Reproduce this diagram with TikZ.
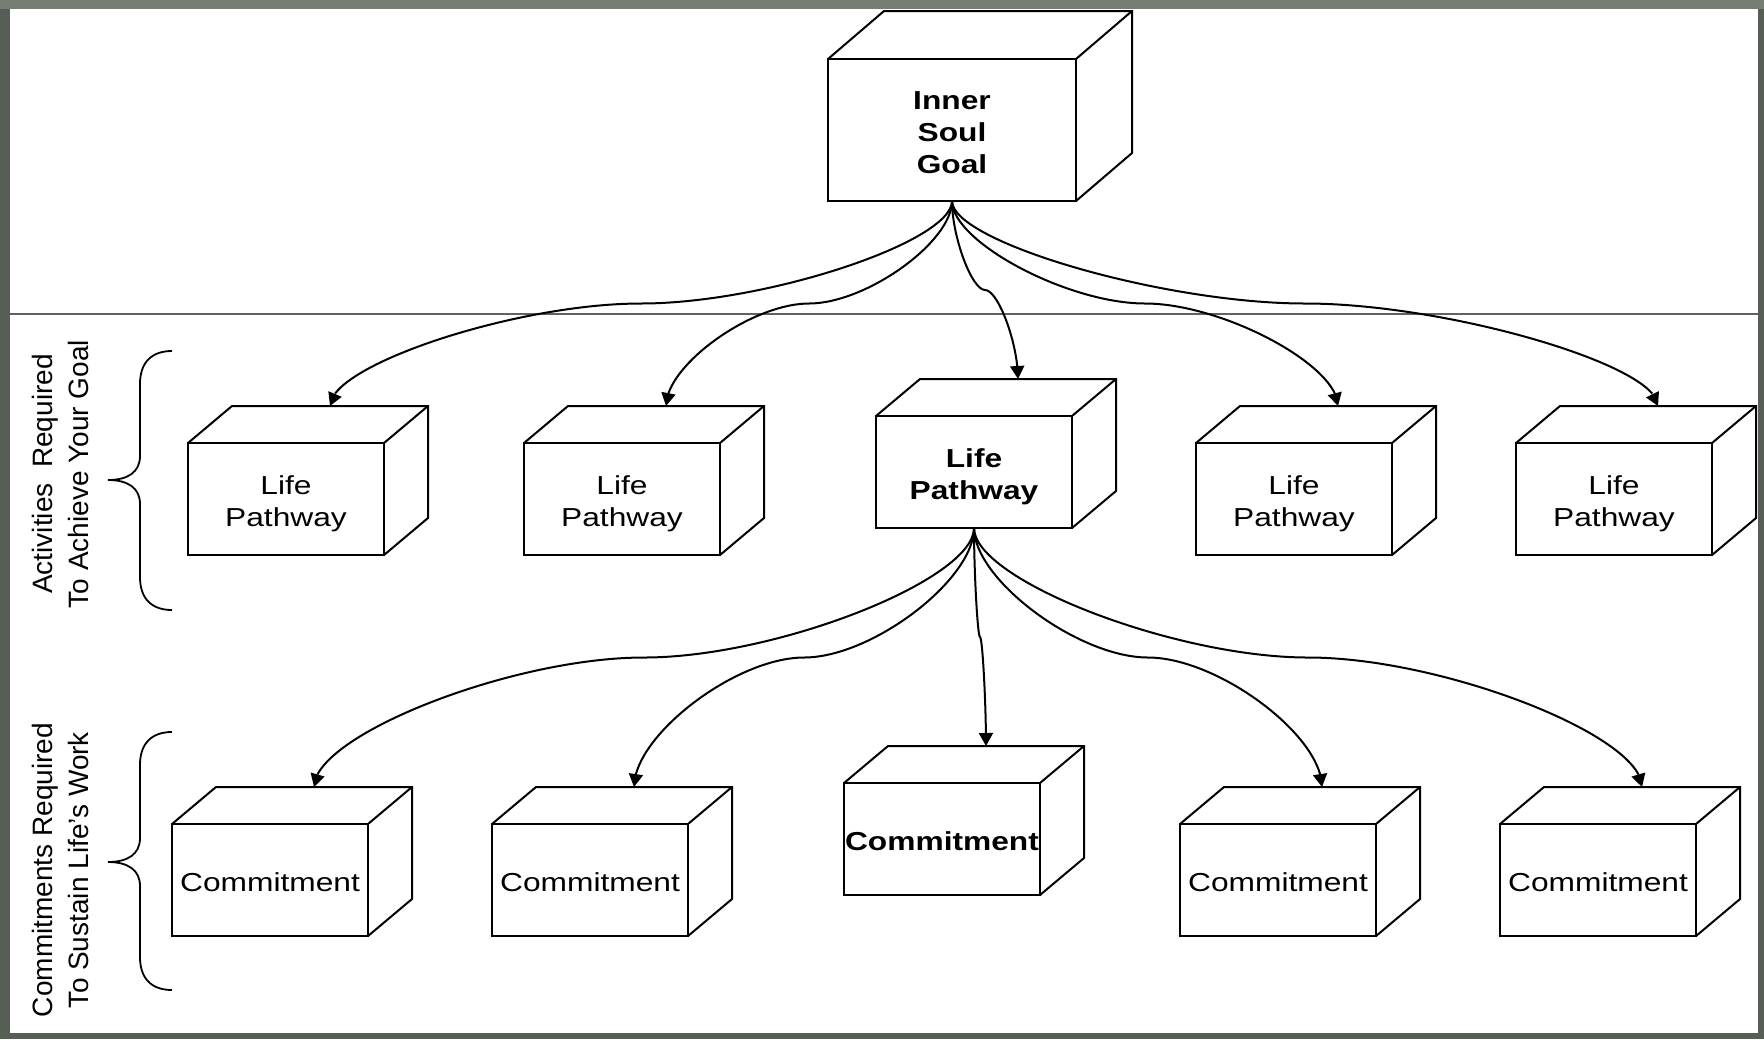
\documentclass[tikz,border=0pt]{standalone}
\usepackage{fontspec}
\setmainfont{Liberation Sans}
\newfontfamily\boxfont[FakeStretch=1.22]{Liberation Sans}
\usetikzlibrary{arrows.meta,bending,calc}

\definecolor{framecol}{RGB}{86,94,85}
\definecolor{frametop}{RGB}{118,126,116}
\definecolor{rulecol}{RGB}{96,100,96}

\tikzset{
  edge/.style={line width=1pt, line join=miter},
  face/.style={edge, draw, fill=white, inner sep=0pt, outer sep=0pt, align=center,
    anchor=north west, text depth=0pt, font=\boxfont\fontsize{13pt}{16pt}\selectfont},
  pathbox/.style={face, minimum width=98pt, minimum height=56pt, text height=27.5pt},
  keypath/.style={pathbox, font=\boxfont\bfseries\fontsize{13pt}{16pt}\selectfont},
  commitbox/.style={face, minimum width=98pt, minimum height=56pt, text height=11pt},
  keycommit/.style={commitbox, font=\boxfont\bfseries\fontsize{13pt}{16pt}\selectfont},
  goalbox/.style={face, minimum width=124pt, minimum height=71pt, text height=43pt,
    font=\boxfont\bfseries\fontsize{13pt}{16pt}\selectfont},
  conn/.style={line width=1pt, -{Triangle[length=6.5pt,width=7pt]}},
  brace/.style={line width=0.9pt},
  side/.style={rotate=90, align=center, inner sep=0pt,
    font=\fontsize{14pt}{18pt}\selectfont},
}

% top and right faces of a box whose front face is node #1; depth (#2,#3) in px
\newcommand\solid[3]{%
  \draw[edge] (#1.north west) -- ++(#2,-#3) -- ($(#1.north east)+(#2,-#3)$)
    -- ($(#1.south east)+(#2,-#3)$) -- (#1.south east);
  \draw[edge] (#1.north east) -- ++(#2,-#3);
  \coordinate (#1-in) at ($(#1.north)+(#2,-#3)$);
}

% curved connector: vertical start, horizontal at the midpoint, vertical end
\newcommand\link[2]{%
  \coordinate (mid) at ($(#1)!0.5!(#2)$);
  \draw[conn] (#1) .. controls ($(#1)!0.4!(#1|-mid)$) and ($(mid)!0.4!(#1|-mid)$) .. (mid)
    .. controls ($(mid)!0.4!(#2|-mid)$) and ($(#2)!0.4!(#2|-mid)$) .. (#2);
}

\begin{document}
\begin{tikzpicture}[x=0.5pt, y=-0.5pt]
  \useasboundingbox (0,0) rectangle (1764,1039);

  % frame and page
  \fill[framecol] (0,0) rectangle (1764,1039);
  \fill[frametop] (0,0) rectangle (1764,9);
  \fill[white] (10,9) rectangle (1758,1033);

  % divider under the goal
  \draw[rulecol, line width=0.7pt] (10,314) -- (1758,314);

  % goal
  \node[goalbox] (goal) at (828,59) {Inner\\Soul\\Goal};
  \solid{goal}{56}{48}

  % life pathways
  \node[pathbox] (lp1) at (188,443) {Life\\Pathway};
  \node[pathbox] (lp2) at (524,443) {Life\\Pathway};
  \node[keypath] (lp3) at (876,416) {Life\\Pathway};
  \node[pathbox] (lp4) at (1196,443) {Life\\Pathway};
  \node[pathbox] (lp5) at (1516,443) {Life\\Pathway};
  \foreach \n in {lp1,lp2,lp3,lp4,lp5} {\solid{\n}{44}{37}}

  % commitments
  \node[commitbox] (cm1) at (172,824) {Commitment};
  \node[commitbox] (cm2) at (492,824) {Commitment};
  \node[keycommit] (cm3) at (844,783) {Commitment};
  \node[commitbox] (cm4) at (1180,824) {Commitment};
  \node[commitbox] (cm5) at (1500,824) {Commitment};
  \foreach \n in {cm1,cm2,cm3,cm4,cm5} {\solid{\n}{44}{37}}

  % connectors
  \foreach \t in {lp1,lp2,lp3,lp4,lp5} {\link{goal.south}{\t-in}}
  \foreach \t in {cm1,cm2,cm3,cm4,cm5} {\link{lp3.south}{\t-in}}

  % braces
  \draw[brace] (172,351) .. controls (152,351) and (140,362) .. (140,384) -- (140,456)
    .. controls (140,472) and (128,480) .. (108,480)
    .. controls (128,480) and (140,488) .. (140,504) -- (140,577)
    .. controls (140,599) and (152,610) .. (172,610);
  \draw[brace] (172,732) .. controls (152,732) and (140,743) .. (140,765) -- (140,838)
    .. controls (140,854) and (128,862) .. (108,862)
    .. controls (128,862) and (140,870) .. (140,886) -- (140,957)
    .. controls (140,979) and (152,990) .. (172,990);

  % row captions
  \node[side] (cap1) at (60,474) {Activities\ \ Required\\To Achieve Your Goal};
  \node[side] (cap2) at (60,870) {Commitments Required\\To Sustain Life’s Work};
\end{tikzpicture}
\end{document}
